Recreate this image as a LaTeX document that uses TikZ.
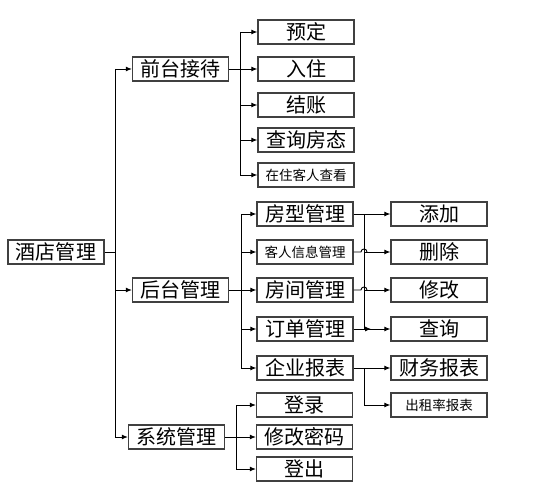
\documentclass[tikz,border=0pt]{standalone}
\usepackage{fontspec}
\setmainfont{Noto Sans CJK SC}
\usetikzlibrary{arrows.meta,calc}

\begin{document}
\begin{tikzpicture}[x=1pt,y=-1pt,
  box/.style={draw=black!75, line width=1.3pt, minimum width=96pt, minimum height=24pt, inner sep=0pt, font=\fontsize{20}{20}\selectfont},
  smallbox/.style={box, font=\fontsize{13.5}{13.5}\selectfont},
  link/.style={line width=0.9pt, -{Latex[length=6pt,width=5pt]}},
  bus/.style={line width=0.9pt}]
  \useasboundingbox (0,0) rectangle (535,489);

  % Root and first level
  \node[box] (root) at (56,252) {酒店管理};
  \node[box] (qiantai) at (180.5,69) {前台接待};
  \node[box] (houtai) at (180.5,290) {后台管理};
  \node[box] (xitong) at (176.5,437) {系统管理};
  \coordinate (b0) at (115,252);
  \draw[bus] (root.east) -- (b0);
  \draw[bus] (b0 |- qiantai) -- (b0 |- xitong);
  \foreach \n in {qiantai,houtai,xitong}
    \draw[link] (b0 |- \n) -- (\n.west);

  % Front desk
  \foreach \i/\y/\t in {1/32/预定, 2/69/入住, 3/105/结账, 4/140/查询房态}
    \node[box] (q\i) at (306,\y) {\t};
  \node[smallbox] (q5) at (306,175) {在住客人查看};
  \coordinate (b1) at (240,69);
  \draw[bus] (qiantai.east) -- (b1);
  \draw[bus] (b1 |- q1) -- (b1 |- q5);
  \foreach \i in {1,...,5}
    \draw[link] (b1 |- q\i) -- (q\i.west);

  % Back office
  \node[box] (h1) at (305,214) {房型管理};
  \node[smallbox] (h2) at (305,252) {客人信息管理};
  \node[box] (h3) at (305,290) {房间管理};
  \node[box] (h4) at (305,329) {订单管理};
  \node[box] (h5) at (305,368) {企业报表};
  \coordinate (b2) at (241,290);
  \draw[bus] (houtai.east) -- (b2);
  \draw[bus] (b2 |- h1) -- (b2 |- h5);
  \foreach \i in {1,...,5}
    \draw[link] (b2 |- h\i) -- (h\i.west);

  % Operations
  \foreach \i/\y/\t in {1/214/添加, 2/252/删除, 3/290/修改, 4/329/查询}
    \node[box] (o\i) at (439,\y) {\t};
  \coordinate (b3) at (364,214);
  \draw[bus] (h1.east) -- (b3) -- (b3 |- h4);
  \foreach \i in {1,...,4}
    \draw[link] (b3 |- o\i) -- (o\i.west);
  % line hops over the bus
  \foreach \i in {2,3}
    \draw[bus] (h\i.east) -- ($(b3 |- h\i)+(-3,0)$)
      .. controls +(0,-4) and +(0,-4) .. ($(b3 |- h\i)+(3,0)$);
  \draw[link] (h4.east) -- ($(b3 |- h4)+(7,0)$);

  % Reports
  \node[box] (r1) at (439,368) {财务报表};
  \node[smallbox] (r2) at (439,405) {出租率报表};
  \coordinate (b4) at (364,368);
  \draw[bus] (h5.east) -- (b4) -- (b4 |- r2);
  \draw[link] (b4) -- (r1.west);
  \draw[link] (b4 |- r2) -- (r2.west);

  % System
  \foreach \i/\y/\t in {1/405/登录, 2/437/修改密码, 3/469/登出}
    \node[box] (s\i) at (304.5,\y) {\t};
  \coordinate (b5) at (236,437);
  \draw[bus] (xitong.east) -- (b5);
  \draw[bus] (b5 |- s1) -- (b5 |- s3);
  \foreach \i in {1,...,3}
    \draw[link] (b5 |- s\i) -- (s\i.west);
\end{tikzpicture}
\end{document}
